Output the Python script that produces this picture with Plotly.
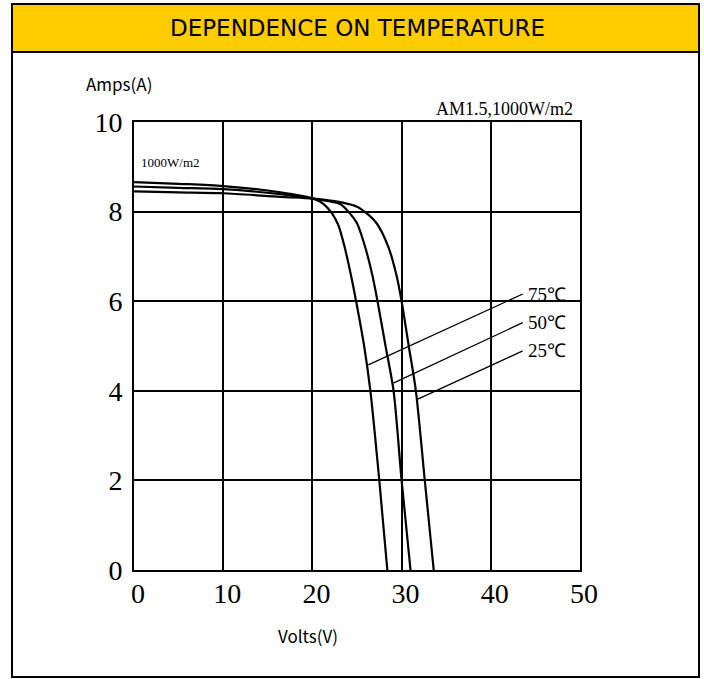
import plotly.graph_objects as go

# ---- data ----
v_25 = [0, 5, 10, 16.4, 20.1, 23.1, 25.0, 26.1, 27.2, 28.5, 29.4, 30.0, 30.8, 31.6, 32.6, 33.6]
i_25 = [8.45, 8.43, 8.41, 8.33, 8.29, 8.21, 8.11, 7.96, 7.74, 7.22, 6.6, 6.0, 5.0, 4.0, 2.0, 0]

v_50 = [0, 5, 10, 16.4, 20.1, 23.1, 24.2, 25.0, 25.9, 26.7, 27.3, 28.2, 29.1, 30.0, 31.0]
i_50 = [8.56, 8.53, 8.50, 8.39, 8.29, 8.17, 7.96, 7.74, 7.22, 6.6, 6.0, 5.0, 4.0, 2.0, 0]

v_75 = [0, 5, 10, 16.4, 20.1, 21.2, 22.2, 22.9, 23.6, 24.3, 24.9, 25.8, 26.5, 27.5, 28.4]
i_75 = [8.66, 8.62, 8.57, 8.43, 8.29, 8.18, 7.96, 7.70, 7.22, 6.6, 6.0, 5.0, 4.0, 2.0, 0]

temp_labels = ["75\u2103", "50\u2103", "25\u2103"]
pointer_from_v = [26.26, 29.07, 31.76]
pointer_from_i = [4.58, 4.17, 3.81]
pointer_to_v = [43.58, 43.58, 43.58]
pointer_to_i = [6.16, 5.52, 4.89]

x_ticks = [0, 10, 20, 30, 40, 50]
y_ticks = [0, 2, 4, 6, 8, 10]

title_text = "DEPENDENCE ON TEMPERATURE"
y_title = "Amps(A)"
x_title = "Volts(V)"
condition_text = "AM1.5,1000W/m2"
irr_text = "1000W/m2"

# ---- figure ----
fig = go.Figure()
for vs, cs in [(v_25, i_25), (v_50, i_50), (v_75, i_75)]:
    fig.add_trace(go.Scatter(x=vs, y=cs, mode="lines",
                             line=dict(color="black", width=2.2, shape="spline", smoothing=0.8),
                             showlegend=False, hoverinfo="skip"))

for k in range(len(temp_labels)):
    fig.add_trace(go.Scatter(x=[pointer_from_v[k], pointer_to_v[k]],
                             y=[pointer_from_i[k], pointer_to_i[k]],
                             mode="lines", line=dict(color="black", width=1.3),
                             showlegend=False, hoverinfo="skip"))
    fig.add_annotation(x=pointer_to_v[k], y=pointer_to_i[k], xref="x", yref="y",
                       text=temp_labels[k], showarrow=False, xanchor="left", yanchor="middle",
                       xshift=3, font=dict(family="Liberation Serif", size=19, color="black"))

serif = "Liberation Serif"
fig.update_xaxes(range=[0, 50], tickvals=x_ticks, ticktext=[str(t) for t in x_ticks],
                 showgrid=True, gridcolor="black", gridwidth=1.5, zeroline=False,
                 showline=True, linecolor="black", linewidth=2, mirror=True,
                 ticks="", ticklabelstandoff=-3, ticklabelshift=4,
                 tickfont=dict(family=serif, size=28, color="black"))
fig.update_yaxes(range=[0, 10], tickvals=y_ticks, ticktext=[str(t) for t in y_ticks],
                 showgrid=True, gridcolor="black", gridwidth=1.5, zeroline=False,
                 showline=True, linecolor="black", linewidth=2, mirror=True,
                 ticks="", ticklabelstandoff=4,
                 tickfont=dict(family=serif, size=28, color="black"))

L, R, T, B = 134, 124, 122, 109
W, H = 704, 679
pw, ph = W - L - R, H - T - B

def px(x):
    return (x - L) / pw

def py(y):
    return (H - B - y) / ph

# header band and outer frame
fig.add_shape(type="rect", xref="paper", yref="paper", x0=px(12), x1=px(699), y0=py(52), y1=py(4),
              fillcolor="#FFCC00", line=dict(color="black", width=2), layer="below")
fig.add_shape(type="rect", xref="paper", yref="paper", x0=px(12), x1=px(699), y0=py(677), y1=py(4),
              fillcolor="rgba(0,0,0,0)", line=dict(color="black", width=2))

fig.add_annotation(xref="paper", yref="paper", x=px(357), y=py(28), text=title_text, showarrow=False,
                   xanchor="center", yanchor="middle",
                   font=dict(family="DejaVu Sans", size=23, color="black"))
fig.add_annotation(xref="paper", yref="paper", x=px(119), y=py(84), text=y_title, showarrow=False,
                   xanchor="center", yanchor="middle",
                   font=dict(family="Noto Sans CJK JP", size=17, color="black"))
fig.add_annotation(xref="paper", yref="paper", x=px(308), y=py(635), text=x_title, showarrow=False,
                   xanchor="center", yanchor="middle",
                   font=dict(family="Noto Sans CJK JP", size=17, color="black"))
fig.add_annotation(xref="paper", yref="paper", x=px(575), y=py(109), text=condition_text, showarrow=False,
                   xanchor="right", yanchor="middle",
                   font=dict(family=serif, size=18, color="black"))
fig.add_annotation(xref="paper", yref="paper", x=px(139), y=py(162), text=irr_text, showarrow=False,
                   xanchor="left", yanchor="middle",
                   font=dict(family=serif, size=13, color="black"))

fig.update_layout(width=W, height=H, margin=dict(l=L, r=R, t=T, b=B),
                  paper_bgcolor="white", plot_bgcolor="white")

fig.write_html("out.html", config={"displayModeBar": False},
               post_script="document.body.style.margin='0';document.body.style.overflow='hidden';")
